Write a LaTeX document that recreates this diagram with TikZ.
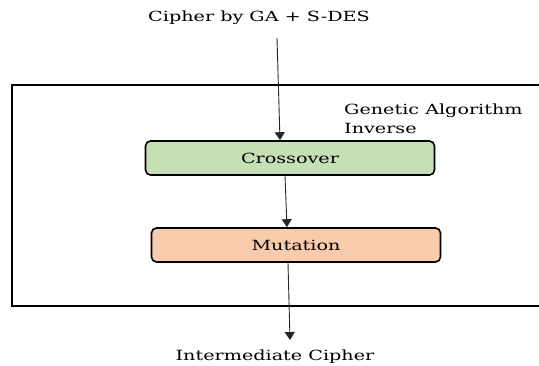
\documentclass[tikz,border=0pt]{standalone}
\usepackage{fontspec}
\setmainfont[FakeStretch=1.37]{DejaVu Serif}
\usetikzlibrary{arrows.meta,calc}
\definecolor{crossfill}{HTML}{C5E0B4}
\definecolor{mutfill}{HTML}{F8CBAD}
\tikzset{
  stage/.style={draw=black, line width=1.6pt, rounded corners=5pt,
    minimum width=289pt, minimum height=34pt, font=\fontsize{14}{16}\selectfont},
  lbl/.style={font=\fontsize{14}{19}\selectfont, inner sep=0pt},
  arr/.style={draw=black!85, line width=0.9pt, -{Triangle[length=8pt,width=10pt]}}
}
\begin{document}
\begin{tikzpicture}[x=1pt,y=-1pt]
\useasboundingbox (0,0) rectangle (539,365);
\clip (0,0) rectangle (539,365);
% outer frame of the inverse genetic algorithm
\draw[line width=2pt] (12,85) rectangle (560,306);
\node[lbl, anchor=west, align=left] (gai) at (344,119) {Genetic Algorithm\\Inverse};
% stages
\node[stage, fill=crossfill] (cross) at (290,158) {Crossover};
\node[stage, fill=mutfill] (mut) at (296,245) {Mutation};
% input and output labels
\node[lbl] (cin) at (259,18) {Cipher by GA + S-DES};
\node[lbl] (cout) at (275,357) {Intermediate Cipher};
% connectors
\draw[arr] ($(cin.south)+(18,13)$) -- ($(cross.north)+(-10,0)$);
\draw[arr] ($(cross.south)+(-5,0)$) -- ($(mut.north)+(-9,0)$);
\draw[arr] ($(mut.south)+(-8,0)$) -- ($(cout.north)+(15,-10)$);
\end{tikzpicture}
\end{document}
